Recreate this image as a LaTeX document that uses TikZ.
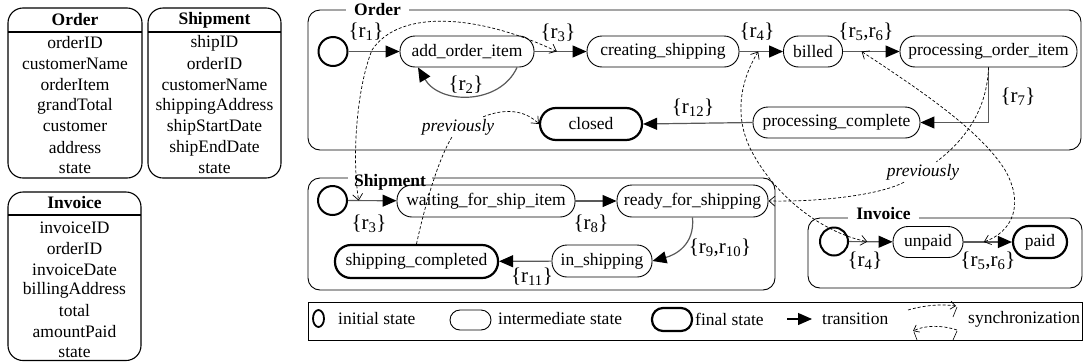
\documentclass[tikz,border=0pt]{standalone}
\usepackage{fontspec}
\setmainfont{Liberation Serif}
\usetikzlibrary{arrows.meta,shapes.geometric}
\newcommand\sfs{\fontsize{17.5}{21}\selectfont}
\newcommand\lfs{\fontsize{21}{25}\selectfont}
\newcommand\rr[1]{r\textsubscript{#1}}
\tikzset{
  tbl/.style={draw, line width=1.1pt, rounded corners=15pt},
  hdr/.style={font=\sfs\bfseries, inner sep=0pt},
  cont/.style={draw, line width=0.9pt, rounded corners=12pt},
  ttl/.style={font=\sfs\bfseries, fill=white, anchor=base, inner xsep=8pt, inner ysep=2pt},
  st/.style={draw, line width=0.9pt, rounded corners=15pt, minimum height=31pt, inner sep=0pt},
  fin/.style={st, line width=2.2pt, rounded corners=16pt, minimum height=32pt},
  ini/.style={circle, draw, line width=2pt, minimum size=29pt, inner sep=0pt},
  ell/.style={ellipse, draw, line width=1.8pt, minimum width=11pt, minimum height=17pt, inner sep=0pt},
  tr/.style={draw=black!65, line width=1.2pt, -{Triangle[length=14pt,width=12pt,color=black]}},
  sync/.style={draw=black, line width=0.7pt, dash pattern=on 3pt off 2pt},
  syncb/.style={sync, {Straight Barb[length=6pt,width=10pt]}-{Straight Barb[length=6pt,width=10pt]}},
  syncf/.style={sync, -{Straight Barb[length=6pt,width=10pt]}},
  lab/.style={font=\lfs, inner sep=0pt},
  prev/.style={font=\sfs\itshape, inner sep=2pt},
  lt/.style={anchor=west, inner sep=0pt}
}
\begin{document}
\begin{tikzpicture}[x=1pt,y=-1pt,font=\sfs]
\useasboundingbox (0,0) rectangle (1083,362);

% ---------- tables ----------
\draw[tbl] (8,8) rectangle (142,178);
\draw[line width=1.1pt] (8,32) -- (142,32);
\node[hdr] (toh) at (75,20) {Order};
\foreach \t [count=\i] in {orderID,customerName,orderItem,grandTotal,customer,address,state}
  \node[inner sep=0pt] (to\i) at (75,22+21*\i) {\t};

\draw[tbl] (148,8) rectangle (281,178);
\draw[line width=1.1pt] (148,32) -- (281,32);
\node[hdr] (tsh) at (214.5,20) {Shipment};
\foreach \t [count=\i] in {shipID,orderID,customerName,shippingAddress,shipStartDate,shipEndDate,state}
  \node[inner sep=0pt] (ts\i) at (214.5,22+21*\i) {\t};

\draw[tbl] (8,192) rectangle (141,360.5);
\draw[line width=1.1pt] (8,215) -- (141,215);
\node[hdr] (tih) at (74.5,203) {Invoice};
\foreach \t [count=\i] in {invoiceID,orderID,invoiceDate,billingAddress,total,amountPaid,state}
  \node[inner sep=0pt] (ti\i) at (74.5,207.3+20.7*\i) {\t};

% ---------- Order ----------
\draw[cont] (308,10) rectangle (1081,150);
\node[ttl] (tord) at (377.5,15.5) {Order};
\node[ini] (oi) at (333,51.5) {};
\node[st, minimum width=134pt] (aoi) at (467,51.5) {add\_order\_item};
\node[st, minimum width=152pt] (cs) at (663,51.5) {creating\_shipping};
\node[st, minimum width=59pt] (bl) at (813,51.5) {billed};
\node[st, minimum width=177pt] (poi) at (988.5,51.5) {processing\_order\_item};
\node[st, minimum width=167pt] (pc) at (836.5,122.5) {processing\_complete};
\node[fin, minimum width=102pt] (cl) at (591,124) {closed};

\draw[tr] (oi) -- (aoi);
\draw[tr] (aoi) -- coordinate[pos=0.43] (t3) (cs);
\draw[tr] ([xshift=50pt]aoi.south) .. controls (500,105) and (440,105) .. ([xshift=-49pt]aoi.south);
\draw[tr] (cs) -- coordinate[pos=0.43] (t4) (bl);
\draw[tr] (bl) -- coordinate[pos=0.33] (t56) (poi);
\draw[tr] (poi.south) |- (pc.east);
\draw[tr] (pc.west) -- (cl.east);

\node[lab] (l1) at (366,32) {\{\rr{1}\}};
\node[lab] (l3) at (558,33) {\{\rr{3}\}};
\node[lab] (l2) at (466,85) {\{\rr{2}\}};
\node[lab] (l4) at (757,32) {\{\rr{4}\}};
\node[lab] (l56) at (866,32) {\{\rr{5},\rr{6}\}};
\node[lab] (l7) at (1018,97) {\{\rr{7}\}};
\node[lab] (l12) at (693,108) {\{\rr{12}\}};

% ---------- Shipment ----------
\draw[cont] (308,178) rectangle (775,290);
\node[ttl, inner xsep=6pt] (tship) at (390,186) {Shipment};
\node[ini] (si) at (332.5,200.5) {};
\node[st, minimum width=178pt, minimum height=32pt] (wf) at (486,201) {waiting\_for\_ship\_item};
\node[st, minimum width=151pt, minimum height=32pt] (rfs) at (692.5,201) {ready\_for\_shipping};
\node[st, minimum width=100pt, minimum height=32pt] (ins) at (602,261) {in\_shipping};
\node[fin, minimum width=163pt, minimum height=33pt] (sc) at (416.5,261.5) {shipping\_completed};

\draw[tr] (si) -- coordinate[pos=0.22] (s3) (wf);
\draw[tr] (wf) -- (rfs);
\draw[tr] (rfs.south) .. controls (695,245) and (675,255) .. (ins.east);
\draw[tr] (ins) -- (sc);

\node[lab] (ls3) at (369,224) {\{\rr{3}\}};
\node[lab] (l8) at (591,224) {\{\rr{8}\}};
\node[lab] (l910) at (720,248) {\{\rr{9},\rr{10}\}};
\node[lab] (l11) at (532,277) {\{\rr{11}\}};

% ---------- Invoice ----------
\draw[cont] (808,218) rectangle (1082,288);
\node[ttl] (tinv) at (883.5,219.5) {Invoice};
\node[ini, minimum size=28pt] (ii) at (834,241.5) {};
\node[st, minimum width=70pt] (up) at (928,242) {unpaid};
\node[fin, minimum width=54pt] (pd) at (1040,242) {paid};

\draw[tr] (ii) -- coordinate[pos=0.42] (i4) (up);
\draw[tr] (up) -- coordinate[pos=0.42] (i56) (pd);

\node[lab] (li4) at (865,261) {\{\rr{4}\}};
\node[lab] (li56) at (988,261) {\{\rr{5},\rr{6}\}};

% ---------- synchronizations ----------
\node[prev] (pv1) at (458,127) {previously};
\node[prev] (pv2) at (923,172) {previously};

\draw[syncb] (t3) .. controls (480,15) and (400,8) .. (372,50) .. controls (356,90) and (352,160) .. (s3);
\draw[sync] (sc.north) .. controls (425,205) and (438,160) .. (pv1);
\draw[syncf] (pv1) .. controls (505,108) and (525,110) .. (cl.west);
\draw[syncb] (t4) .. controls (738,85) and (735,120) .. (752,152) .. controls (775,195) and (820,232) .. (i4);
\draw[syncb] (t56) .. controls (920,90) and (980,130) .. (1005,170) .. controls (1025,205) and (1012,232) .. (i56);
\draw[sync] (poi.south) .. controls (987,110) and (965,140) .. (pv2);
\draw[syncf] (pv2) .. controls (880,195) and (820,202) .. (rfs.east);

% ---------- legend ----------
\draw[line width=0.9pt] (308,302) rectangle (1082,340);
\node[ell] (lgi) at (318.5,318.5) {};
\node[lt] (lgit) at (338,319) {initial state};
\node[st, minimum width=41pt, minimum height=20pt, rounded corners=10pt] (lgm) at (470.5,320) {};
\node[lt] (lgmt) at (498,319) {intermediate state};
\node[fin, minimum width=40pt, minimum height=23pt, rounded corners=11pt] (lgf) at (672,319.5) {};
\node[lt] (lgft) at (695,319) {final state};
\coordinate (lga) at (787,319);
\coordinate (lgb) at (812,319);
\draw[tr, draw=black] (lga) -- (lgb);
\node[lt] (lgtt) at (822,319) {transition};
\coordinate (sa1) at (908,310);
\coordinate (sa2) at (956,306);
\coordinate (sb1) at (957,330);
\coordinate (sb2) at (913,331);
\draw[sync, -{Straight Barb[length=5pt,width=8pt]}] (sa1) .. controls (925,305) and (942,304) .. (sa2);
\draw[line width=0.6pt] (957,307) -- (953,317);
\draw[sync, -{Straight Barb[length=5pt,width=8pt]}] (sb1) .. controls (942,325) and (925,325) .. (sb2);
\draw[line width=0.6pt] (914,332) -- (917,340);
\draw[line width=0.6pt] (957,331) -- (953,340);
\node[lt] (lgst) at (968,319) {synchronization};
\end{tikzpicture}
\end{document}
